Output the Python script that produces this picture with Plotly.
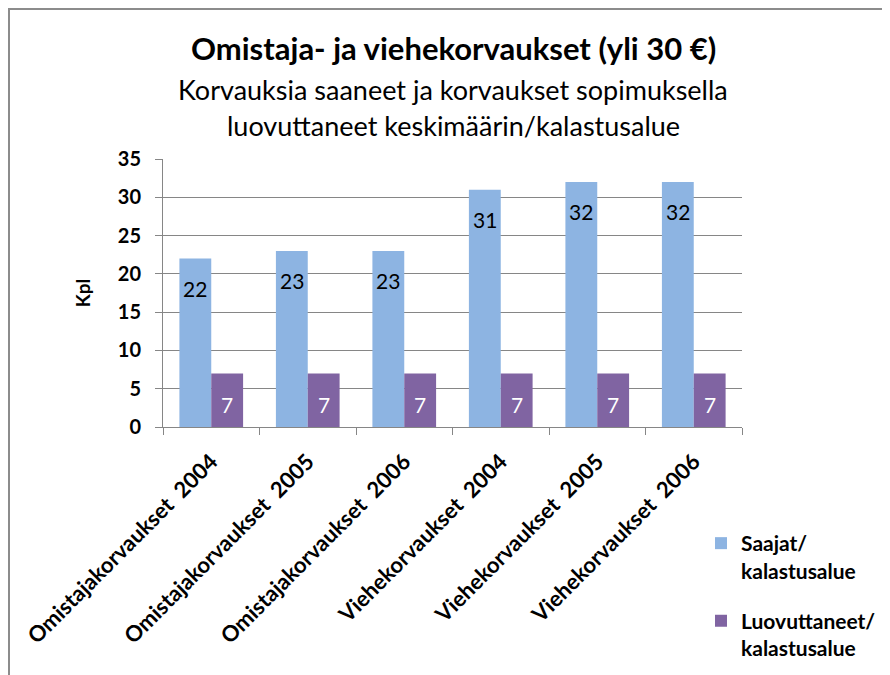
import plotly.graph_objs as go

categories = ['Omistajakorvaukset  2004', 'Omistajakorvaukset  2005', 'Omistajakorvaukset  2006',
              'Viehekorvaukset  2004', 'Viehekorvaukset  2005', 'Viehekorvaukset  2006']
saajat = [22, 23, 23, 31, 32, 32]
luovuttaneet = [7, 7, 7, 7, 7, 7]
series_names = ['Saajat/<br>kalastusalue', 'Luovuttaneet/<br>kalastusalue']
y_ticks = [0, 5, 10, 15, 20, 25, 30, 35]

W, H = 890, 675
OFF = 8  # page body margin
L, T = 163 - OFF, 159 - OFF
R, B = W - (742 - OFF), H - (427 - OFF)
PW, PH = W - L - R, H - T - B

FONT = 'Lato'


def px(xp):
    return (xp - OFF - L) / PW


def py(yp):
    return (H - (yp - OFF) - B) / PH


fig = go.Figure()

fig.add_trace(go.Bar(
    x=categories, y=saajat, name=series_names[0], legendgroup='a',
    marker=dict(color='#8DB4E2', line=dict(width=0)),
))
fig.add_trace(go.Bar(
    x=categories, y=luovuttaneet, name=series_names[1], legendgroup='b',
    marker=dict(color='#8064A2', line=dict(width=0)),
))

# value labels, Excel style: a little below the bar top
bar_w = PW / len(categories) * (1 - 0.34) / 2
annotations = []
for cat, v in zip(categories, saajat):
    annotations.append(dict(x=cat, y=v, xref='x', yref='y', text=str(v), showarrow=False,
                            xshift=-bar_w / 2, yshift=-30,
                            font=dict(family=FONT, size=21, color='black')))
for cat, v in zip(categories, luovuttaneet):
    annotations.append(dict(x=cat, y=v, xref='x', yref='y', text=str(v), showarrow=False,
                            xshift=bar_w / 2, yshift=-31,
                            font=dict(family=FONT, size=21, color='white')))

# titles
titles = [('<b>Omistaja- ja viehekorvaukset (yli 30 €)</b>', 48, 31),
          ('Korvauksia saaneet ja korvaukset sopimuksella', 89, 27),
          ('luovuttaneet keskimäärin/kalastusalue', 125, 27)]
for text, yp, size in titles:
    annotations.append(dict(x=px(453), y=py(yp), xref='paper', yref='paper',
                            xanchor='center', yanchor='middle',
                            text=text, showarrow=False,
                            font=dict(family=FONT, size=size, color='black')))

# outer chart border
shapes = [dict(type='rect', xref='paper', yref='paper',
               x0=px(OFF + 1), x1=px(889), y0=py(700), y1=py(OFF + 1),
               line=dict(color='#8C8C8C', width=2), fillcolor='rgba(0,0,0,0)', layer='below')]

fig.update_layout(
    width=W, height=H,
    margin=dict(l=L, r=R, t=T, b=B),
    paper_bgcolor='white', plot_bgcolor='white',
    barmode='group', bargap=0.34, bargroupgap=0,
    font=dict(family=FONT, color='black'),
    showlegend=True,
    legend=dict(x=px(701), y=py(523), xanchor='left', yanchor='top',
                traceorder='grouped', valign='top',
                font=dict(family=FONT, size=21, color='black', weight='bold'),
                tracegroupgap=20, itemwidth=30, bgcolor='rgba(0,0,0,0)'),
    annotations=annotations,
    shapes=shapes,
    xaxis=dict(
        type='category', tickangle=-45, tickson='boundaries',
        ticks='outside', ticklen=7, tickcolor='#868686',
        ticklabelstandoff=12,
        showline=True, linecolor='#868686', linewidth=1,
        showgrid=False,
        tickfont=dict(family=FONT, size=22, color='black', weight='bold'),
    ),
    yaxis=dict(
        range=[0, 35], tickvals=y_ticks,
        ticks='outside', ticklen=7, tickcolor='#868686',
        ticklabelstandoff=10,
        showline=True, linecolor='#868686', linewidth=1,
        showgrid=True, gridcolor='#868686', gridwidth=1,
        tickfont=dict(family=FONT, size=20, color='black', weight='bold'),
        title=dict(text='Kpl', standoff=22,
                   font=dict(family=FONT, size=19, color='black', weight='bold')),
    ),
)

fig.write_html("out.html")
